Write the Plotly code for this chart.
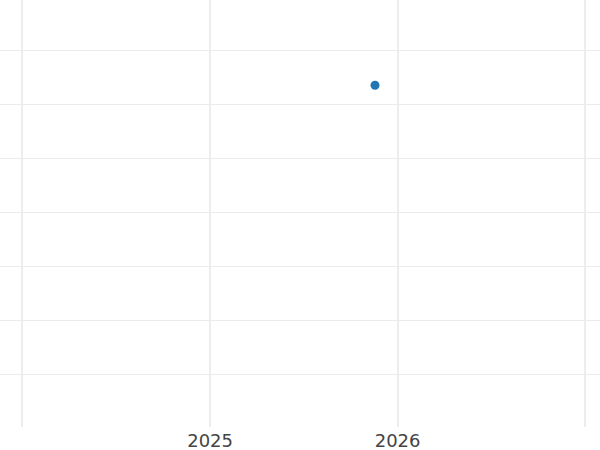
import plotly.graph_objects as go

# single observation
dates = ["2025-11-18"]
values = [6.35]

x_range = ["2023-11-19", "2027-01-30"]
y_range = [0.02, 7.93]

fig = go.Figure()
fig.add_trace(go.Scatter(
    x=dates, y=values,
    mode="markers",
    marker=dict(color="#1f77b4", size=9),
    showlegend=False,
))

fig.update_layout(
    width=600, height=450,
    margin=dict(l=0, r=0, t=0, b=23, pad=0),
    paper_bgcolor="white",
    plot_bgcolor="white",
    font=dict(family="DejaVu Sans", size=18, color="#444444"),
)
fig.update_xaxes(
    type="date", range=x_range,
    dtick="M12", tickformat="%Y",
    showgrid=True, gridcolor="#ededed", gridwidth=2,
    zeroline=False, showline=False, ticks="",
    ticklabelstandoff=1, automargin=False,
)
fig.update_yaxes(
    range=y_range, dtick=1,
    showgrid=True, gridcolor="#ebebeb", gridwidth=1,
    zeroline=False, showline=False, showticklabels=False,
    automargin=False,
)

# page has a default 8px body margin; drop it so the figure sits at the corner
fig.write_html("out.html", config={"displayModeBar": False},
               post_script="document.body.style.margin='0';")
